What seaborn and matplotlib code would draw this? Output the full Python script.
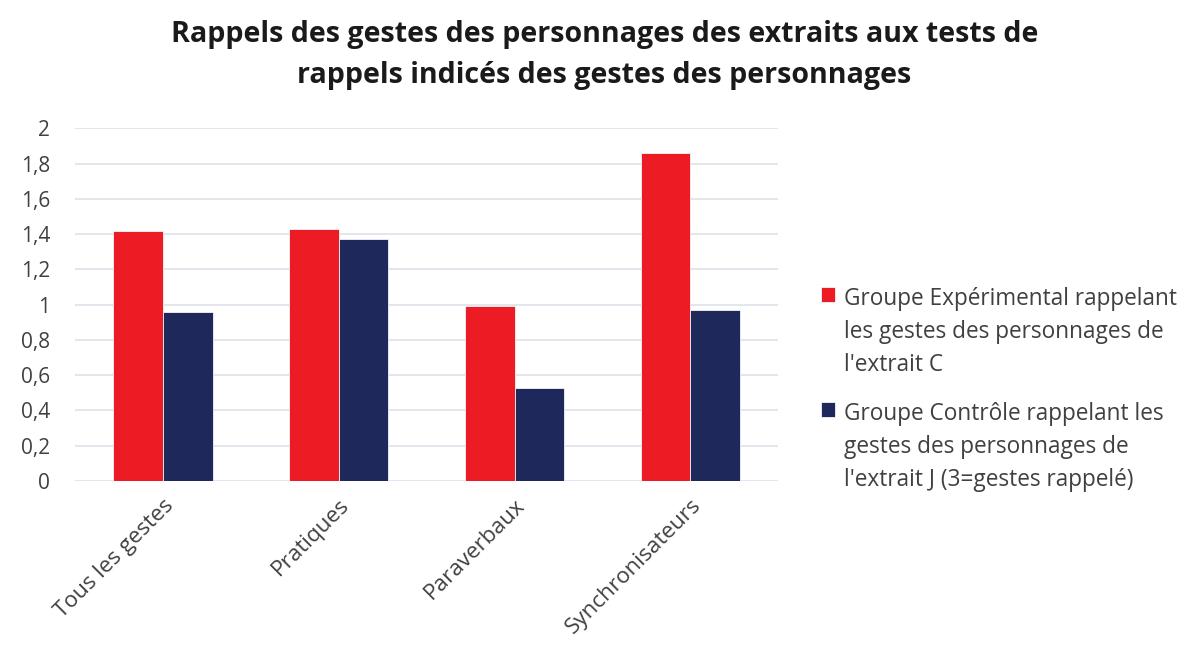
import matplotlib
matplotlib.use("Agg")
import matplotlib.pyplot as plt
import seaborn as sns
import pandas as pd

categories = ["Tous les gestes", "Pratiques", "Paraverbaux", "Synchronisateurs"]
groupe_experimental = [1.42, 1.43, 0.99, 1.86]
groupe_controle = [0.96, 1.37, 0.53, 0.97]
series_labels = [
    "Groupe Expérimental rappelant\nles gestes des personnages de\nl'extrait C",
    "Groupe Contrôle rappelant les\ngestes des personnages de\nl'extrait J (3=gestes rappelé)",
]
series_colors = ["#ED1C24", "#1E285A"]
y_ticks = [0, 0.2, 0.4, 0.6, 0.8, 1, 1.2, 1.4, 1.6, 1.8, 2]
y_tick_labels = ["0", "0,2", "0,4", "0,6", "0,8", "1", "1,2", "1,4", "1,6", "1,8", "2"]
title = ("Rappels des gestes des personnages des extraits aux tests de\n"
         "rappels indicés des gestes des personnages")

df = pd.DataFrame({
    "categorie": categories * 2,
    "valeur": groupe_experimental + groupe_controle,
    "groupe": [series_labels[0]] * 4 + [series_labels[1]] * 4,
})

sns.set_theme(style="white")
plt.rcParams["font.family"] = ["Open Sans", "DejaVu Sans"]

TXT = "#404040"

fig = plt.figure(figsize=(11.9, 6.46), dpi=100)
ax = fig.add_axes([0.063, 0.2554, 0.591, 0.546])

sns.barplot(data=df, x="categorie", y="valeur", hue="groupe",
            palette=series_colors, saturation=1, width=0.565, ax=ax,
            edgecolor="#f4f4f8", linewidth=0.6, legend=True)

ax.set_ylim(0, 2)
ax.set_xlim(-0.5, 3.5)
ax.set_yticks(y_ticks)
ax.set_yticklabels(y_tick_labels, fontsize=15, color=TXT)
ax.yaxis.grid(True, color="#dde1ea", linewidth=1.2)
ax.set_axisbelow(True)
for s in ax.spines.values():
    s.set_visible(False)
ax.tick_params(axis="y", length=0, pad=18)
ax.tick_params(axis="x", length=0, pad=10)
ax.set_xticks(range(len(categories)))
ax.set_xticklabels(categories, rotation=45, ha="right", rotation_mode="anchor",
                   fontsize=16.2, color=TXT)
ax.set_xlabel("")
ax.set_ylabel("")

handles, labels = ax.get_legend_handles_labels()
ax.get_legend().remove()
leg = fig.legend(handles, labels, loc="upper left", bbox_to_anchor=(0.69, 0.555),
                 frameon=False, fontsize=16.3, handlelength=0.6, handleheight=0.6,
                 handletextpad=0.4, labelspacing=1.1, labelcolor=TXT,
                 borderaxespad=0, borderpad=0)
for t in leg.get_texts():
    t.set_linespacing(1.5)
# square marker next to the first line of each entry
for column in leg._legend_handle_box.get_children():
    for row in column.get_children():
        row.align = "top"

fig.text(0.508, 0.915, title, ha="center", va="center", fontsize=20.6,
         fontweight="bold", color="#1a1a1a", linespacing=1.55)

fig.savefig("out.png", dpi=100, facecolor="white")
